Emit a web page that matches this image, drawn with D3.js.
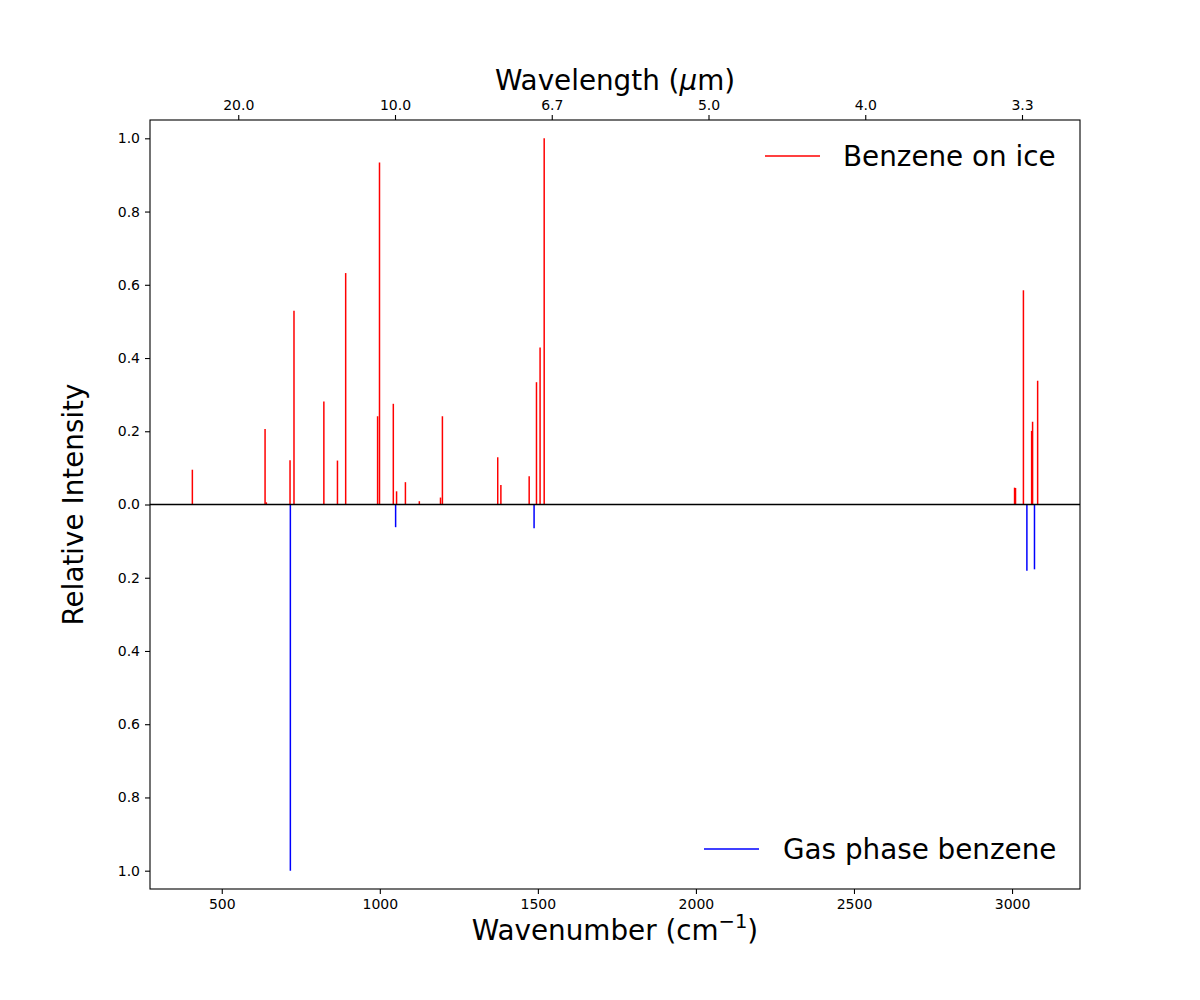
<!DOCTYPE html>
<html>
<head>
<meta charset="utf-8">
<script src="https://cdn.jsdelivr.net/npm/d3@7"></script>
<style>
  body { margin: 0; background: #fff; }
  text { font-family: "DejaVu Sans", sans-serif; fill: #000; }
</style>
</head>
<body>
<div id="chart"></div>
<script>
// benzene on ice (upward sticks)
var iceWn = [407, 637, 641, 716, 728.5, 823, 866, 892, 993, 999, 1042.7, 1053, 1081, 1125,
             1192, 1198, 1373, 1383, 1472.5, 1495.6, 1507, 1520, 3008, 3011, 3036, 3062, 3065, 3081];
var iceInt = [0.095, 0.206, 0.006, 0.121, 0.529, 0.281, 0.120, 0.632, 0.241, 0.934, 0.275, 0.036, 0.061, 0.009,
              0.019, 0.241, 0.129, 0.053, 0.077, 0.334, 0.429, 1.0, 0.046, 0.045, 0.585, 0.201, 0.226, 0.338];

// gas phase benzene (downward sticks)
var gasWn = [717, 1050, 1488, 3047, 3071];
var gasInt = [1.0, 0.062, 0.065, 0.181, 0.177];

// ticks
var wnTicks = [500, 1000, 1500, 2000, 2500, 3000];
var yTicks = [-1.0, -0.8, -0.6, -0.4, -0.2, 0.0, 0.2, 0.4, 0.6, 0.8, 1.0];

var W = 1200, H = 1000;
var margin = {top: 120, right: 120, bottom: 111, left: 150};
var w = W - margin.left - margin.right;
var h = H - margin.top - margin.bottom;
var bigFont = 27.8;

var svg = d3.select("#chart").append("svg")
    .attr("width", W)
    .attr("height", H);

var g = svg.append("g")
    .attr("transform", "translate(" + margin.left + "," + margin.top + ")");

var x = d3.scaleLinear().domain([273, 3215]).range([0, w]);
var xTop = d3.scaleLinear().domain([218.5, 3185]).range([0, w]);
var y = d3.scaleLinear().domain([-1.05, 1.05]).range([h, 0]);

// sticks
g.selectAll("line.ice")
    .data(d3.zip(iceWn, iceInt))
    .enter().append("line")
    .attr("class", "ice")
    .attr("x1", function(d) { return x(d[0]); })
    .attr("x2", function(d) { return x(d[0]); })
    .attr("y1", y(0))
    .attr("y2", function(d) { return y(d[1]); })
    .attr("stroke", "red")
    .attr("stroke-width", 1.5);

g.selectAll("line.gas")
    .data(d3.zip(gasWn, gasInt))
    .enter().append("line")
    .attr("class", "gas")
    .attr("x1", function(d) { return x(d[0]); })
    .attr("x2", function(d) { return x(d[0]); })
    .attr("y1", y(0))
    .attr("y2", function(d) { return y(-d[1]); })
    .attr("stroke", "blue")
    .attr("stroke-width", 1.5);

// zero line
g.append("line")
    .attr("x1", 0).attr("x2", w)
    .attr("y1", y(0)).attr("y2", y(0))
    .attr("stroke", "#000")
    .attr("stroke-width", 1.5);

// axes
var xAxis = d3.axisBottom(x).tickValues(wnTicks).tickSize(5).tickPadding(5)
    .tickFormat(d3.format("d"));
var xAxisTop = d3.axisTop(xTop).tickValues(wnTicks).tickSize(5).tickPadding(5)
    .tickFormat(function(d) { return (10000 / d).toFixed(1); });
var yAxis = d3.axisLeft(y).tickValues(yTicks).tickSize(5).tickPadding(5)
    .tickFormat(function(d) { return Math.abs(d).toFixed(1); });

function styleAxis(sel) {
    sel.select(".domain").remove();
    sel.selectAll(".tick line").attr("stroke", "#000").attr("stroke-width", 1.1);
    sel.selectAll(".tick text")
        .attr("font-family", "DejaVu Sans")
        .attr("font-size", 14)
        .attr("fill", "#000");
}

g.append("g").attr("transform", "translate(0," + h + ")").call(xAxis).call(styleAxis);
g.append("g").call(xAxisTop).call(styleAxis);
g.append("g").call(yAxis).call(styleAxis);

// frame
g.append("rect")
    .attr("width", w).attr("height", h)
    .attr("fill", "none")
    .attr("stroke", "#000")
    .attr("stroke-width", 1.1);

// axis labels
var xl = svg.append("text")
    .attr("x", margin.left + w / 2)
    .attr("y", 940)
    .attr("text-anchor", "middle")
    .attr("font-size", bigFont);
xl.append("tspan").text("Wavenumber (cm");
xl.append("tspan").attr("font-size", 19.5).attr("dy", -12).text("\u22121");
xl.append("tspan").attr("dy", 12).text(")");

var tl = svg.append("text")
    .attr("x", margin.left + w / 2)
    .attr("y", 90)
    .attr("text-anchor", "middle")
    .attr("font-size", bigFont);
tl.append("tspan").text("Wavelength (");
tl.append("tspan").attr("font-style", "italic").text("\u03bc");
tl.append("tspan").text("m)");

svg.append("text")
    .attr("transform", "translate(83," + (margin.top + h / 2) + ") rotate(-90)")
    .attr("text-anchor", "middle")
    .attr("font-size", bigFont)
    .text("Relative Intensity");

// legends
var legends = [
    {label: "Benzene on ice", color: "red", lx: 765, ly: 156, tx: 843},
    {label: "Gas phase benzene", color: "blue", lx: 704, ly: 849, tx: 783}
];

legends.forEach(function(d) {
    svg.append("line")
        .attr("x1", d.lx).attr("x2", d.lx + 55)
        .attr("y1", d.ly).attr("y2", d.ly)
        .attr("stroke", d.color)
        .attr("stroke-width", 1.5);
    svg.append("text")
        .attr("x", d.tx)
        .attr("y", d.ly + 10)
        .attr("font-size", bigFont)
        .text(d.label);
});
</script>
</body>
</html>
